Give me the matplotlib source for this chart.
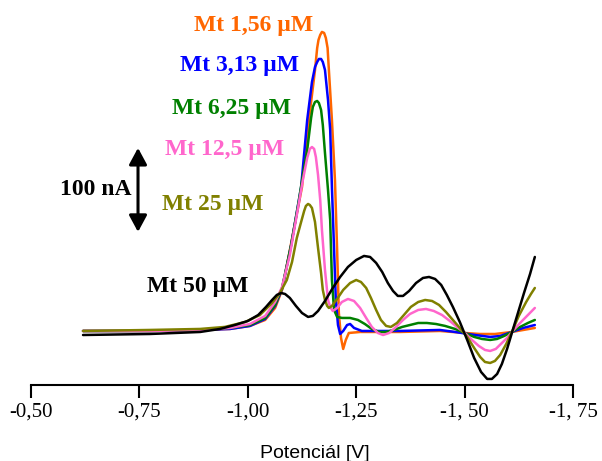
import matplotlib.pyplot as plt

plt.rcParams['font.family'] = ['Liberation Serif', 'DejaVu Serif']

# potential [V] / current [nA] for each concentration
E_156 = [-0.620, -0.774, -0.890, -0.959, -1.005, -1.040, -1.063, -1.079, -1.097, -1.125,
         -1.141, -1.155, -1.160, -1.163, -1.167, -1.171, -1.176, -1.180, -1.184, -1.187,
         -1.194, -1.201, -1.206, -1.210, -1.215, -1.220, -1.226, -1.233, -1.259, -1.351,
         -1.443, -1.501, -1.536, -1.570, -1.609, -1.662]
I_156 = [0, 0, 1.2, 2.4, 6.0, 13.1, 27.4, 48.8, 96.4, 171.4,
         251.2, 310.7, 336.9, 346.4, 352.4, 356.0, 354.8, 348.8, 336.9, 310.7,
         251.2, 179.8, 96.4, 21.4, -8.3, -21.4, -10.7, -2.4, -1.2, -1.2,
         0, -2.4, -3.6, -3.6, -1.2, 3.6]

E_313 = [-0.620, -0.774, -0.890, -0.959, -1.005, -1.040, -1.063, -1.079, -1.100, -1.123,
         -1.137, -1.148, -1.155, -1.160, -1.164, -1.169, -1.173, -1.178, -1.185, -1.190,
         -1.194, -1.199, -1.203, -1.208, -1.213, -1.220, -1.229, -1.236, -1.245, -1.263,
         -1.351, -1.443, -1.478, -1.524, -1.559, -1.582, -1.609, -1.635, -1.662]
I_313 = [0, 0, 1.2, 2.4, 6.0, 14.3, 29.8, 50.0, 102.4, 171.4,
         251.2, 296.4, 314.3, 320.2, 323.8, 323.8, 320.2, 310.7, 275.0, 239.3,
         171.4, 96.4, 36.9, 7.1, -3.6, 0, 7.1, 8.3, 3.6, 0,
         0, 1.2, -1.2, -4.8, -7.1, -6.0, -1.2, 3.6, 7.1]

E_625 = [-0.620, -0.774, -0.890, -0.959, -1.005, -1.040, -1.063, -1.079, -1.100, -1.118,
         -1.127, -1.137, -1.146, -1.150, -1.155, -1.160, -1.164, -1.169, -1.173, -1.178,
         -1.185, -1.190, -1.194, -1.199, -1.206, -1.217, -1.236, -1.254, -1.270, -1.286,
         -1.303, -1.319, -1.337, -1.356, -1.374, -1.393, -1.413, -1.434, -1.455, -1.478,
         -1.501, -1.522, -1.540, -1.559, -1.575, -1.591, -1.609, -1.628, -1.646, -1.662]
I_625 = [0, 0, 1.2, 3.6, 7.1, 15.5, 31.0, 51.2, 102.4, 156.0,
         185.7, 215.5, 253.6, 266.7, 272.6, 273.8, 271.4, 263.1, 245.2, 211.9,
         167.9, 132.1, 60.7, 25.0, 16.7, 15.5, 15.5, 13.1, 8.3, 2.4,
         -1.2, -1.2, 1.2, 4.8, 7.1, 9.5, 9.5, 8.3, 6.0, 2.4,
         -2.4, -7.1, -9.5, -10.7, -9.5, -6.0, -1.2, 4.8, 9.5, 13.1]

E_125 = [-0.620, -0.774, -0.890, -0.959, -1.005, -1.040, -1.063, -1.079, -1.097, -1.113,
         -1.127, -1.137, -1.143, -1.148, -1.153, -1.157, -1.162, -1.167, -1.171, -1.178,
         -1.185, -1.190, -1.196, -1.206, -1.217, -1.231, -1.245, -1.259, -1.273, -1.286,
         -1.300, -1.312, -1.326, -1.342, -1.358, -1.374, -1.393, -1.411, -1.429, -1.448,
         -1.466, -1.485, -1.501, -1.517, -1.533, -1.547, -1.559, -1.572, -1.586, -1.598,
         -1.609, -1.628, -1.646, -1.662]
I_125 = [0, 0, 1.2, 3.6, 8.3, 17.9, 34.5, 52.4, 90.5, 138.1,
         179.8, 206.0, 216.7, 219.0, 216.7, 207.1, 185.7, 156.0, 120.2, 72.6,
         36.9, 28.6, 23.8, 27.4, 34.5, 38.1, 35.7, 27.4, 15.5, 4.8,
         -2.4, -4.8, -2.4, 4.8, 13.1, 20.2, 25.0, 26.2, 23.8, 19.0,
         11.9, 3.6, -2.4, -10.7, -17.9, -22.6, -23.8, -21.4, -14.3, -8.3,
         -1.2, 9.5, 19.0, 27.4]

E_25 = [-0.620, -0.774, -0.890, -0.947, -0.994, -1.028, -1.056, -1.074, -1.090, -1.102,
        -1.113, -1.123, -1.130, -1.134, -1.139, -1.143, -1.148, -1.155, -1.162, -1.169,
        -1.173, -1.178, -1.183, -1.187, -1.194, -1.206, -1.220, -1.236, -1.250, -1.261,
        -1.273, -1.284, -1.296, -1.307, -1.319, -1.330, -1.344, -1.360, -1.376, -1.393,
        -1.409, -1.425, -1.441, -1.457, -1.473, -1.489, -1.506, -1.522, -1.536, -1.547,
        -1.559, -1.570, -1.582, -1.596, -1.609, -1.625, -1.642, -1.653, -1.662]
I_25 = [0, 1.2, 2.4, 4.8, 10.7, 19.0, 33.3, 45.2, 60.7, 82.1,
        110.7, 129.8, 142.9, 148.8, 151.2, 150.0, 146.4, 129.8, 98.8, 69.0,
        48.8, 36.9, 29.8, 27.4, 29.8, 38.1, 48.8, 57.1, 60.7, 58.3,
        51.2, 39.3, 25.0, 13.1, 6.0, 4.8, 9.5, 19.0, 28.6, 34.5,
        36.9, 35.7, 31.0, 22.6, 13.1, 3.6, -7.1, -20.2, -31.0, -36.9,
        -38.1, -35.7, -28.6, -15.5, -1.2, 17.9, 34.5, 44.0, 51.2]

E_50 = [-0.620, -0.774, -0.890, -0.936, -0.970, -1.000, -1.024, -1.042, -1.056, -1.067,
        -1.077, -1.086, -1.097, -1.111, -1.125, -1.139, -1.150, -1.162, -1.178, -1.196,
        -1.213, -1.231, -1.250, -1.268, -1.282, -1.296, -1.310, -1.323, -1.335, -1.346,
        -1.358, -1.372, -1.388, -1.404, -1.418, -1.432, -1.446, -1.459, -1.473, -1.489,
        -1.506, -1.522, -1.538, -1.552, -1.563, -1.575, -1.586, -1.598, -1.609, -1.623,
        -1.637, -1.651, -1.662]
I_50 = [-4.8, -3.6, -1.2, 2.4, 7.1, 11.9, 19.0, 28.6, 36.9, 42.9,
        45.2, 44.0, 39.3, 29.8, 21.4, 16.7, 17.9, 23.8, 35.7, 51.2,
        64.3, 76.2, 84.5, 89.3, 88.1, 81.0, 70.2, 57.1, 47.6, 41.7,
        41.7, 47.6, 57.1, 63.1, 64.3, 61.9, 54.8, 42.9, 28.6, 10.7,
        -10.7, -32.1, -48.8, -57.1, -57.1, -51.2, -39.3, -21.4, -2.4, 21.4,
        45.2, 67.9, 88.1]

series = [
    (E_156, I_156, '#FF6600', 'Mt 1,56 µM'),
    (E_313, I_313, '#0000FF', 'Mt 3,13 µM'),
    (E_625, I_625, '#008000', 'Mt 6,25 µM'),
    (E_125, I_125, '#FF66CC', 'Mt 12,5 µM'),
    (E_25, I_25, '#808000', 'Mt 25 µM'),
    (E_50, I_50, '#000000', 'Mt 50 µM'),
]
# label position (left edge, baseline) in pixels from top-left
label_pos = [(194, 31), (180, 71), (172, 114), (165, 155), (162, 210), (147, 292)]

ticks = [-0.50, -0.75, -1.00, -1.25, -1.50, -1.75]
tick_labels = ['-0,50', '-0,75', '-1,00', '-1,25', '-1, 50', '-1, 75']

scale_bar = 100  # nA
W, H = 602, 461

fig = plt.figure(figsize=(W / 100, H / 100), dpi=100)
ax = fig.add_axes([0, 0, 1, 1])
ax.set_xlim(-0.4285, -1.8169)
ax.set_ylim(-154.8, 394.0)

for E, I, c, name in series:
    ax.plot(E, I, color=c, lw=1.8, solid_joinstyle='round', solid_capstyle='round')

for (E, I, c, name), (px, py) in zip(series, label_pos):
    fig.text(px / W, 1 - py / H, name, color=c, fontsize=17, fontweight='bold',
             ha='left', va='baseline')

# 100 nA scale arrow
ax.annotate('', xy=(-0.7468, 117.9 + scale_bar), xytext=(-0.7468, 117.9),
            arrowprops=dict(arrowstyle='<|-|>,head_length=0.5,head_width=0.27',
                            color='black', lw=2.2, mutation_scale=20,
                            shrinkA=0, shrinkB=0))
fig.text(132 / W, 1 - 195 / H, '%d nA' % scale_bar, fontsize=17, fontweight='bold',
         ha='right', va='baseline')

for s in ['left', 'right', 'top']:
    ax.spines[s].set_visible(False)
ax.spines['bottom'].set_position(('data', -64.3))
ax.spines['bottom'].set_bounds(-0.5, -1.75)
ax.spines['bottom'].set_linewidth(1.5)
ax.set_xticks(ticks)
ax.set_xticklabels(tick_labels)
ax.tick_params(axis='x', direction='out', length=9.5, width=1.5, labelsize=15, pad=3)
ax.set_yticks([])

fig.text(315 / W, 1 - 458 / H, 'Potenciál [V]', family='Liberation Sans', fontsize=14,
         ha='center', va='baseline')

fig.savefig('out.png', dpi=100)
